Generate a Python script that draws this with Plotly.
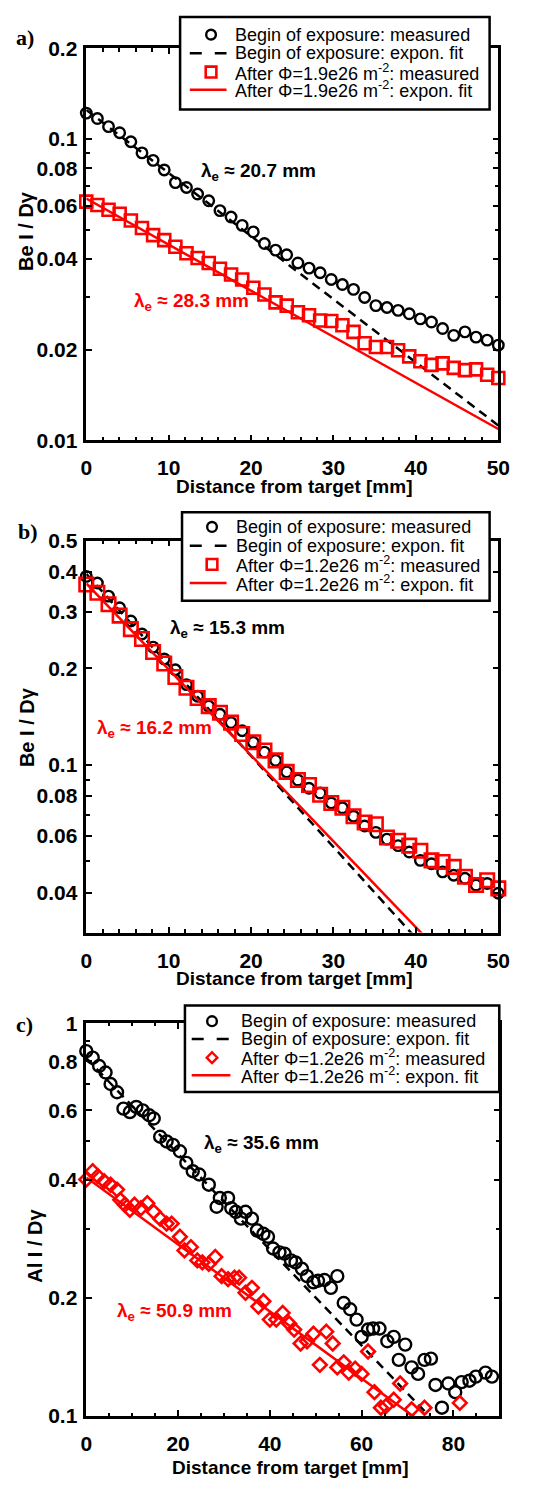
import math
import plotly.graph_objects as go

W, H = 549, 1493

# ---------------- data ----------------
# panel a (Be, after 1.9e26)
x_a = [0, 1.35, 2.70, 4.05, 5.41, 6.76, 8.11, 9.46, 10.81, 12.16, 13.51, 14.86, 16.22,
       17.57, 18.92, 20.27, 21.62, 22.97, 24.32, 25.68, 27.03, 28.38, 29.73, 31.08,
       32.43, 33.78, 35.14, 36.49, 37.84, 39.19, 40.54, 41.89, 43.24, 44.59, 45.95,
       47.30, 48.65, 50.0]
begin_a = [0.122, 0.117, 0.110, 0.105, 0.098, 0.090, 0.085, 0.079, 0.0717, 0.0691,
           0.0657, 0.0624, 0.0579, 0.0551, 0.0517, 0.0492, 0.0450, 0.0428, 0.0413,
           0.0388, 0.0373, 0.0360, 0.0342, 0.0329, 0.0317, 0.0298, 0.0280, 0.0276,
           0.0270, 0.0263, 0.0253, 0.0247, 0.0235, 0.0223, 0.0229, 0.0220, 0.0215, 0.0207]
after_a = [0.0620, 0.0604, 0.0583, 0.0565, 0.0537, 0.0507, 0.0480, 0.0462, 0.0439,
           0.0418, 0.0403, 0.0388, 0.0371, 0.0355, 0.0342, 0.0321, 0.0305, 0.0287,
           0.0280, 0.0266, 0.0260, 0.0250, 0.0249, 0.0241, 0.0229, 0.0210, 0.0204,
           0.0204, 0.0199, 0.0190, 0.0183, 0.0178, 0.0180, 0.0174, 0.0171, 0.0172,
           0.0165, 0.0161]
fit_x_a = [0, 50]
fit_begin_a = [0.125, 0.0112]
fit_after_a = [0.0635, 0.0109]

# panel b (Be, after 1.2e26)
x_b = x_a
begin_b = [0.387, 0.369, 0.336, 0.309, 0.281, 0.256, 0.233, 0.214, 0.198, 0.178,
           0.1637, 0.1525, 0.1438, 0.1355, 0.1278, 0.1176, 0.1096, 0.1033, 0.0951,
           0.0897, 0.0846, 0.0817, 0.0761, 0.0735, 0.0692, 0.0645, 0.0616, 0.0587,
           0.0560, 0.0535, 0.0504, 0.0492, 0.0464, 0.0453, 0.0443, 0.0422, 0.0427, 0.0398]
after_b = [0.365, 0.344, 0.317, 0.292, 0.265, 0.247, 0.225, 0.207, 0.188, 0.174,
           0.1617, 0.1525, 0.1454, 0.1355, 0.1248, 0.1176, 0.1109, 0.1033, 0.0951,
           0.0897, 0.0866, 0.0807, 0.0761, 0.0735, 0.0692, 0.0661, 0.0653, 0.0594,
           0.0580, 0.0560, 0.0540, 0.0504, 0.0498, 0.0481, 0.0448, 0.0422, 0.0437, 0.0412]
fit_x_b = [0, 50]
fit_begin_b = [0.394, 0.0150]
fit_after_b = [0.368, 0.0168]

# panel c (Al, after 1.2e26)
x_c_begin = [0, 1.4, 2.8, 4.2, 5.3, 6.7, 8.1, 9.5, 10.9, 12.3, 13.7, 14.7, 16.1, 17.5,
             18.9, 20.4, 21.8, 23.2, 24.6, 26.7, 28.4, 29.1, 30.9, 31.6, 32.6, 33.7,
             34.7, 36.1, 37.2, 38.6, 39.6, 40.7, 42.1, 43.2, 44.6, 45.6, 47.0, 48.1,
             49.5, 50.5, 51.9, 53.3, 54.7, 56.1, 57.5, 58.9, 60.0, 61.4, 62.5, 63.9,
             65.6, 67.0, 68.1, 69.5, 70.9, 72.3, 73.7, 75.1, 76.1, 77.5, 78.9, 80.4,
             81.8, 83.5, 84.9, 87.0, 88.4]
begin_c = [0.849, 0.817, 0.778, 0.749, 0.700, 0.667, 0.606, 0.594, 0.612, 0.600,
           0.583, 0.572, 0.514, 0.500, 0.490, 0.472, 0.441, 0.420, 0.412, 0.388,
           0.341, 0.359, 0.359, 0.338, 0.331, 0.318, 0.331, 0.318, 0.297, 0.291,
           0.286, 0.267, 0.261, 0.259, 0.249, 0.246, 0.237, 0.227, 0.219, 0.221,
           0.222, 0.212, 0.227, 0.194, 0.187, 0.176, 0.159, 0.166, 0.167, 0.167,
           0.155, 0.159, 0.139, 0.152, 0.133, 0.128, 0.139, 0.140, 0.120, 0.105,
           0.121, 0.115, 0.122, 0.123, 0.126, 0.129, 0.126]
x_c_after = [0, 1.4, 2.5, 3.9, 5.3, 6.7, 7.4, 8.4, 9.5, 10.5, 11.9, 13.3, 14.7, 16.1,
             17.5, 18.6, 20.4, 21.4, 22.8, 24.2, 25.3, 26.7, 28.1, 29.5, 30.9, 32.3,
             33.3, 34.7, 36.1, 37.5, 38.6, 40.0, 41.4, 42.8, 44.2, 45.3, 46.7, 48.1,
             49.5, 50.9, 52.3, 53.7, 54.7, 56.1, 57.2, 58.6, 60.0, 61.4, 62.8, 64.2,
             65.3, 67.0, 68.4, 70.9, 73.7, 81.4]
after_c = [0.400, 0.420, 0.408, 0.396, 0.388, 0.377, 0.355, 0.345, 0.335, 0.345,
           0.338, 0.348, 0.331, 0.318, 0.309, 0.309, 0.286, 0.264, 0.269, 0.249,
           0.246, 0.244, 0.254, 0.227, 0.223, 0.225, 0.225, 0.206, 0.212, 0.190,
           0.196, 0.176, 0.176, 0.183, 0.172, 0.166, 0.153, 0.155, 0.162, 0.135,
           0.164, 0.153, 0.133, 0.137, 0.129, 0.132, 0.128, 0.146, 0.115, 0.105,
           0.106, 0.110, 0.121, 0.104, 0.105, 0.108]
fit_x_c = [0, 90]
fit_begin_c = [0.815, 0.0651]
fit_after_c = [0.405, 0.0691]

# ticks
yt_a = [0.01, 0.02, 0.04, 0.06, 0.08, 0.1, 0.2]
yt_a_lbl = ["0.01", "0.02", "0.04", "0.06", "0.08", "0.1", "0.2"]
ym_a = [0.03, 0.05, 0.07, 0.09]
yt_b = [0.04, 0.06, 0.08, 0.1, 0.2, 0.3, 0.4, 0.5]
yt_b_lbl = ["0.04", "0.06", "0.08", "0.1", "0.2", "0.3", "0.4", "0.5"]
ym_b = [0.05, 0.07, 0.09]
yt_c = [0.1, 0.2, 0.4, 0.6, 0.8, 1.0]
yt_c_lbl = ["0.1", "0.2", "0.4", "0.6", "0.8", "1"]
ym_c = [0.3, 0.5, 0.7, 0.9]

# ---------------- helpers ----------------
def px(x):
    return x / W


def py(y):
    return 1 - y / H


FONT = "Liberation Sans, Arial, sans-serif"
SERIF = "Liberation Serif, Times New Roman, serif"
RED = "#ff0000"

AREAS = {  # left, right, top, bottom (pixels)
    "a": (83, 509, 37, 435),
    "b": (83, 509, 537, 935),
    "c": (83, 510, 1027, 1426),
}

fig = go.Figure()

panels = [
    ("a", "x", "y", x_a, begin_a, x_a, after_a, "square-open", 12, 10.5, fit_x_a, fit_begin_a, fit_after_a),
    ("b", "x2", "y2", x_b, begin_b, x_b, after_b, "square-open", 13.5, 10.5, fit_x_b, fit_begin_b, fit_after_b),
    ("c", "x3", "y3", x_c_begin, begin_c, x_c_after, after_c, "diamond-open", 10.5, 12, fit_x_c, fit_begin_c, fit_after_c),
]

for key, xa, ya, xb, yb, xr, yr, sym, ssize, csize, fx, fb, fr in panels:
    fig.add_trace(go.Scatter(x=xb, y=yb, xaxis=xa, yaxis=ya, mode="markers",
                             marker=dict(symbol="circle-open", size=csize, color="black",
                                         line=dict(width=2.4, color="black")),
                             cliponaxis=False, showlegend=False))
    fig.add_trace(go.Scatter(x=fx, y=fb, xaxis=xa, yaxis=ya, mode="lines",
                             line=dict(color="black", width=2.5, dash="9px,6px"),
                             showlegend=False))
    fig.add_trace(go.Scatter(x=xr, y=yr, xaxis=xa, yaxis=ya, mode="markers",
                             marker=dict(symbol=sym, size=ssize, color=RED,
                                         line=dict(width=2.6, color=RED)),
                             cliponaxis=False, showlegend=False))
    fig.add_trace(go.Scatter(x=fx, y=fr, xaxis=xa, yaxis=ya, mode="lines",
                             line=dict(color=RED, width=2.5),
                             showlegend=False))

tickfont = dict(family=FONT, size=21, color="black", weight="bold")


def xcfg(area, rng, dtick, mdtick, anchor):
    l, r, t, b = area
    return dict(domain=[px(l), px(r)], range=rng, anchor=anchor,
                showline=True, linewidth=2.5, linecolor="black", mirror="allticks",
                ticks="inside", ticklen=6, tickwidth=2, tickcolor="black",
                tickmode="linear", tick0=0, dtick=dtick,
                minor=dict(tickmode="linear", tick0=0, dtick=mdtick, ticks="inside",
                           ticklen=3.5, tickwidth=2, tickcolor="black", showgrid=False),
                showgrid=False, zeroline=False, tickfont=tickfont,
                ticklabelstandoff=7)


def ycfg(area, lo, hi, tv, tt, mv, anchor):
    l, r, t, b = area
    return dict(domain=[py(b), py(t)], type="log",
                range=[math.log10(lo), math.log10(hi)], anchor=anchor,
                showline=True, linewidth=2.5, linecolor="black", mirror="allticks",
                ticks="inside", ticklen=6, tickwidth=2, tickcolor="black",
                tickmode="array", tickvals=tv, ticktext=tt,
                minor=dict(tickmode="array", tickvals=mv, ticks="inside",
                           ticklen=3.5, tickwidth=2, tickcolor="black", showgrid=False),
                showgrid=False, zeroline=False, tickfont=tickfont,
                ticklabelstandoff=2)


layout = dict(
    width=W, height=H,
    margin=dict(l=0, r=0, t=0, b=0),
    paper_bgcolor="white", plot_bgcolor="white",
    showlegend=False,
    xaxis=xcfg(AREAS["a"], [0, 50], 10, 2, "y"),
    yaxis=ycfg(AREAS["a"], 0.01, 0.2, yt_a, yt_a_lbl, ym_a, "x"),
    xaxis2=xcfg(AREAS["b"], [0, 50], 10, 2, "y2"),
    yaxis2=ycfg(AREAS["b"], 0.03, 0.5, yt_b, yt_b_lbl, ym_b, "x2"),
    xaxis3=xcfg(AREAS["c"], [0, 90], 20, 5, "y3"),
    yaxis3=ycfg(AREAS["c"], 0.1, 1.0, yt_c, yt_c_lbl, ym_c, "x3"),
)
fig.update_layout(**layout)

annotations = []
shapes = []


def text(x, y, s, size=17, color="black", bold=False, family=FONT, xanchor="left",
         angle=0):
    annotations.append(dict(x=px(x), y=py(y), xref="paper", yref="paper", text=s,
                            showarrow=False, xanchor=xanchor, yanchor="middle",
                            textangle=angle,
                            font=dict(family=family, size=size, color=color,
                                      weight="bold" if bold else "normal")))


# axis titles
for cx, cy in [(298, 482), (298, 982), (294, 1478)]:
    text(cx, cy, "Distance from target [mm]", size=19, bold=True, xanchor="center")
text(20, 222, "Be I / Dγ", size=20, bold=True, xanchor="center", angle=-90)
text(22, 726, "Be I / Dγ", size=20, bold=True, xanchor="center", angle=-90)
text(30, 1253, "Al I / Dγ", size=20, bold=True, xanchor="center", angle=-90)

# panel labels
text(8, 26, "a)", size=22, bold=True, family=SERIF)
text(10, 528, "b)", size=22, bold=True, family=SERIF)
text(8, 1028, "c)", size=22, bold=True, family=SERIF)

# lambda labels
lam = "λ<sub>e</sub> ≈ {} mm"
text(200, 162, lam.format("20.7"), size=19, bold=True)
text(130, 295, lam.format("28.3"), size=19, bold=True, color=RED)
text(168, 627, lam.format("15.3"), size=19, bold=True)
text(92, 728, lam.format("16.2"), size=19, bold=True, color=RED)
text(203, 1150, lam.format("35.6"), size=19, bold=True)
text(113, 1320, lam.format("50.9"), size=19, bold=True, color=RED)

# legends (drawn manually)
legends = [
    dict(box=(180, 500, 5, 99), rows=[23, 42, 61, 79], sym=212, line=(190, 228), tx=235,
         phi="1.9e26", rsym="square"),
    dict(box=(182, 500, 508, 598), rows=[523, 542, 561, 580], sym=213, line=(190, 228), tx=236,
         phi="1.2e26", rsym="square"),
    dict(box=(185, 510, 1009, 1097), rows=[1025, 1043, 1062, 1080], sym=213, line=(192, 232), tx=241,
         phi="1.2e26", rsym="diamond"),
]
for lg in legends:
    l, r, t, b = lg["box"]
    shapes.append(dict(type="rect", xref="paper", yref="paper", x0=px(l), x1=px(r),
                       y0=py(b), y1=py(t), fillcolor="white",
                       line=dict(color="black", width=2.5), layer="above"))
    r0, r1, r2, r3 = lg["rows"]
    s = lg["sym"]
    shapes.append(dict(type="circle", xref="paper", yref="paper", x0=px(s - 5), x1=px(s + 5),
                       y0=py(r0 + 5), y1=py(r0 - 5), line=dict(color="black", width=2.4),
                       layer="above"))
    shapes.append(dict(type="line", xref="paper", yref="paper", x0=px(lg["line"][0]),
                       x1=px(lg["line"][1]), y0=py(r1), y1=py(r1),
                       line=dict(color="black", width=2.5, dash="12px,13px"), layer="above"))
    if lg["rsym"] == "square":
        shapes.append(dict(type="rect", xref="paper", yref="paper", x0=px(s - 5.5), x1=px(s + 5.5),
                           y0=py(r2 + 5.5), y1=py(r2 - 5.5), line=dict(color=RED, width=2.6),
                           layer="above"))
    else:
        d = 5.5
        path = "M {} {} L {} {} L {} {} L {} {} Z".format(
            px(s), py(r2 - d), px(s + d), py(r2), px(s), py(r2 + d), px(s - d), py(r2))
        shapes.append(dict(type="path", xref="paper", yref="paper", path=path,
                           line=dict(color=RED, width=2.4), layer="above"))
    shapes.append(dict(type="line", xref="paper", yref="paper", x0=px(lg["line"][0]),
                       x1=px(lg["line"][1]), y0=py(r3), y1=py(r3),
                       line=dict(color=RED, width=2.5), layer="above"))
    tx = lg["tx"]
    text(tx, r0, "Begin of exposure: measured", size=18)
    text(tx, r1, "Begin of exposure: expon. fit", size=18)
    text(tx, r2, "After Φ={} m<sup>-2</sup>: measured".format(lg["phi"]), size=18)
    text(tx, r3, "After Φ={} m<sup>-2</sup>: expon. fit".format(lg["phi"]), size=18)

fig.update_layout(annotations=annotations, shapes=shapes)
fig.write_html("out.html",
               config={"displayModeBar": False},
               post_script="document.body.style.margin='0px';document.body.style.padding='0px';")
